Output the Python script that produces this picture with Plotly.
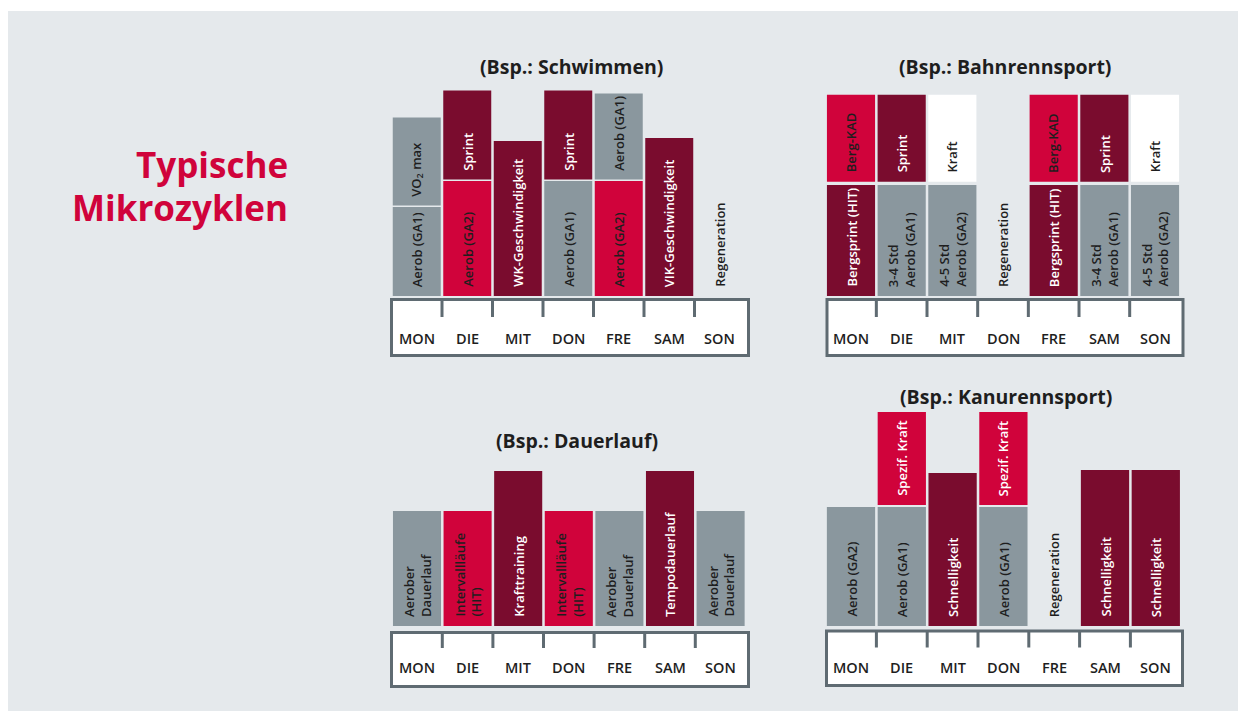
import plotly.graph_objects as go

W, H = 1246, 711
OFF = 8                      # default page margin of the html body
FW, FH = W - OFF, H - OFF    # figure size so that it fits the window

# ---------------- data ----------------
TAGE = ["MON", "DIE", "MIT", "DON", "FRE", "SAM", "SON"]

HAUPTTITEL = ["Typische", "Mikrozyklen"]

# Schwimmen
schwimmen_titel = "(Bsp.: Schwimmen)"
schwimmen_unten = [89, 115, 155, 115, 115, 158, 0]
schwimmen_unten_text = ["Aerob (GA1)", "Aerob (GA2)", "WK-Geschwindigkeit", "Aerob (GA1)",
                        "Aerob (GA2)", "VIK-Geschwindigkeit", "Regeneration"]
schwimmen_unten_art = ["grau", "rot", "dunkel", "grau", "rot", "dunkel", "leer"]
schwimmen_oben = [88, 89, 0, 89, 86, 0, 0]
schwimmen_oben_text = ["VO<sub>2</sub> max", "Sprint", "", "Sprint", "Aerob (GA1)", "", ""]
schwimmen_oben_art = ["grau", "dunkel", "leer", "dunkel", "grau", "leer", "leer"]

# Bahnrennsport
bahn_titel = "(Bsp.: Bahnrennsport)"
bahn_unten = [111, 111, 111, 0, 111, 111, 111]
bahn_unten_text = ["Bergsprint (HIT)", "3-4 Std<br>Aerob (GA1)", "4-5 Std<br>Aerob (GA2)", "Regeneration",
                   "Bergsprint (HIT)", "3-4 Std<br>Aerob (GA1)", "4-5 Std<br>Aerob (GA2)"]
bahn_unten_art = ["dunkel", "grau", "grau", "leer", "dunkel", "grau", "grau"]
bahn_oben = [87, 87, 87, 0, 87, 87, 87]
bahn_oben_text = ["Berg-KAD", "Sprint", "Kraft", "", "Berg-KAD", "Sprint", "Kraft"]
bahn_oben_art = ["rot", "dunkel", "weiss", "leer", "rot", "dunkel", "weiss"]

# Dauerlauf
lauf_titel = "(Bsp.: Dauerlauf)"
lauf_unten = [115, 115, 155, 115, 115, 155, 115]
lauf_unten_text = ["Aerober<br>Dauerlauf", "Intervallläufe<br>(HIT)", "Krafttraining",
                   "Intervallläufe<br>(HIT)", "Aerober<br>Dauerlauf", "Tempodauerlauf",
                   "Aerober<br>Dauerlauf"]
lauf_unten_art = ["grau", "rot", "dunkel", "rot", "grau", "dunkel", "grau"]
lauf_oben = [0, 0, 0, 0, 0, 0, 0]
lauf_oben_text = ["", "", "", "", "", "", ""]
lauf_oben_art = ["leer"] * 7

# Kanurennsport
kanu_titel = "(Bsp.: Kanurennsport)"
kanu_unten = [119, 119, 153, 119, 0, 156, 156]
kanu_unten_text = ["Aerob (GA2)", "Aerob (GA1)", "Schnelligkeit", "Aerob (GA1)", "Regeneration",
                   "Schnelligkeit", "Schnelligkeit"]
kanu_unten_art = ["grau", "grau", "dunkel", "grau", "leer", "dunkel", "dunkel"]
kanu_oben = [0, 93, 0, 93, 0, 0, 0]
kanu_oben_text = ["", "Spezif. Kraft", "", "Spezif. Kraft", "", "", ""]
kanu_oben_art = ["leer", "rot_w", "leer", "rot_w", "leer", "leer", "leer"]

# ---------------- style ----------------
FONT = "Open Sans"
BG = "#e5e9ec"
RAHMEN = "#5f6b72"
TITELROT = "#d0033b"
TXT = "#1e1e1e"
FARBE = {"grau": "#8a979e", "rot": "#d0033b", "rot_w": "#d0033b", "dunkel": "#7a0c2e",
         "weiss": "#ffffff", "leer": "rgba(0,0,0,0)"}
TEXTFARBE = {"grau": TXT, "rot": TXT, "rot_w": "#ffffff", "dunkel": "#ffffff",
             "weiss": TXT, "leer": TXT}


def xp(px):
    return (px - OFF) / FW


def yp(py):
    return 1 - (py - OFF) / FH


# panel geometry in window pixels
PANELS = [
    dict(titel=schwimmen_titel, unten=schwimmen_unten, ut=schwimmen_unten_text, ua=schwimmen_unten_art,
         oben=schwimmen_oben, ot=schwimmen_oben_text, oa=schwimmen_oben_art,
         col0=416.75, pitch=50.5, base=296, box=(390, 298, 750, 357), tick=19, label=338,
         top=80, tpos=(571.5, 66), gap=1.5),
    dict(titel=bahn_titel, unten=bahn_unten, ut=bahn_unten_text, ua=bahn_unten_art,
         oben=bahn_oben, ot=bahn_oben_text, oa=bahn_oben_art,
         col0=851, pitch=50.67, base=296, box=(825.5, 298, 1184.5, 357), tick=19, label=338,
         top=80, tpos=(1005, 66), gap=3.3),
    dict(titel=lauf_titel, unten=lauf_unten, ut=lauf_unten_text, ua=lauf_unten_art,
         oben=lauf_oben, ot=lauf_oben_text, oa=lauf_oben_art,
         col0=417, pitch=50.6, base=626, box=(390, 631, 750, 688), tick=17, label=667,
         top=455, tpos=(577, 441), gap=2),
    dict(titel=kanu_titel, unten=kanu_unten, ut=kanu_unten_text, ua=kanu_unten_art,
         oben=kanu_oben, ot=kanu_oben_text, oa=kanu_oben_art,
         col0=851, pitch=50.8, base=626, box=(825, 629.5, 1184, 687), tick=18, label=667,
         top=405, tpos=(1005.5, 396), gap=2),
]

fig = go.Figure()
layout = dict(
    width=FW, height=FH, margin=dict(l=0, r=0, t=0, b=0, pad=0),
    paper_bgcolor="#ffffff", plot_bgcolor="rgba(0,0,0,0)",
    barmode="overlay", showlegend=False,
    font=dict(family=FONT, color=TXT),
)
shapes = [dict(type="rect", xref="paper", yref="paper", x0=0, x1=1, y0=0, y1=yp(11),
               fillcolor=BG, line=dict(width=0), layer="below")]
annotations = []

for k, p in enumerate(PANELS):
    n = "" if k == 0 else str(k + 1)
    xa, ya = "x" + n, "y" + n
    col0, pitch, base = p["col0"], p["pitch"], p["base"]
    bl, bt, br, bb = p["box"]

    def xd(px, col0=col0, pitch=pitch):
        return (px - col0) / pitch

    def yd(py, base=base):
        return base - py

    dl, dr, dt, db = bl - 4, br + 4, p["top"], bb + 4
    layout["xaxis" + n] = dict(domain=[xp(dl), xp(dr)], range=[xd(dl), xd(dr)], type="category",
                               categoryarray=TAGE, visible=False, fixedrange=True, anchor=ya)
    layout["yaxis" + n] = dict(domain=[yp(db), yp(dt)], range=[yd(db), yd(dt)],
                               visible=False, fixedrange=True, anchor=xa)

    # bars
    fig.add_trace(go.Bar(x=TAGE, y=p["unten"], base=[0] * 7, width=0.95,
                         marker=dict(color=[FARBE[a] for a in p["ua"]], line=dict(width=0)),
                         xaxis=xa, yaxis=ya, hoverinfo="skip"))
    oben_base = [u + p["gap"] for u in p["unten"]]
    fig.add_trace(go.Bar(x=TAGE, y=p["oben"], base=oben_base, width=0.95,
                         marker=dict(color=[FARBE[a] for a in p["oa"]], line=dict(width=0)),
                         xaxis=xa, yaxis=ya, hoverinfo="skip"))

    # vertical bar labels
    for tag, txt, art, b0 in list(zip(TAGE, p["ut"], p["ua"], [0] * 7)) + \
            list(zip(TAGE, p["ot"], p["oa"], oben_base)):
        if not txt:
            continue
        annotations.append(dict(x=tag, y=b0, xref=xa, yref=ya, text=txt, showarrow=False,
                                textangle=-90, xanchor="center", yanchor="bottom", yshift=7,
                                align="left",
                                font=dict(size=13, color=TEXTFARBE[art], family=FONT, weight=600)))

    # day box
    shapes.append(dict(type="rect", xref=xa, yref=ya, x0=xd(bl + 1.5), x1=xd(br - 1.5),
                       y0=yd(bt + 1.5), y1=yd(bb - 1.5), fillcolor="#ffffff",
                       line=dict(color=RAHMEN, width=3), layer="above"))
    for i in range(len(TAGE) - 1):
        shapes.append(dict(type="line", xref=xa, yref=ya, x0=i + 0.5, x1=i + 0.5,
                           y0=yd(bt + 1.5), y1=yd(bt + p["tick"]),
                           line=dict(color=RAHMEN, width=3), layer="above"))
    for tag in TAGE:
        annotations.append(dict(x=tag, y=yd(p["label"]), xref=xa, yref=ya, text=tag, showarrow=False,
                                xanchor="center", yanchor="middle",
                                font=dict(size=14.5, color=TXT, family=FONT, weight=600)))

    # panel title
    tx, ty = p["tpos"]
    annotations.append(dict(x=xp(tx), y=yp(ty), xref="paper", yref="paper", text="<b>%s</b>" % p["titel"],
                            showarrow=False, xanchor="center", yanchor="middle",
                            font=dict(size=19.5, color=TXT, family=FONT)))

# main title
for txt, ypx in zip(HAUPTTITEL, [164, 207]):
    annotations.append(dict(x=xp(290), y=yp(ypx), xref="paper", yref="paper", text="<b>%s</b>" % txt,
                            showarrow=False, xanchor="right", yanchor="middle",
                            font=dict(size=35, color=TITELROT, family=FONT)))

layout["shapes"] = shapes
layout["annotations"] = annotations
fig.update_layout(**layout)
fig.write_html("out.html")
